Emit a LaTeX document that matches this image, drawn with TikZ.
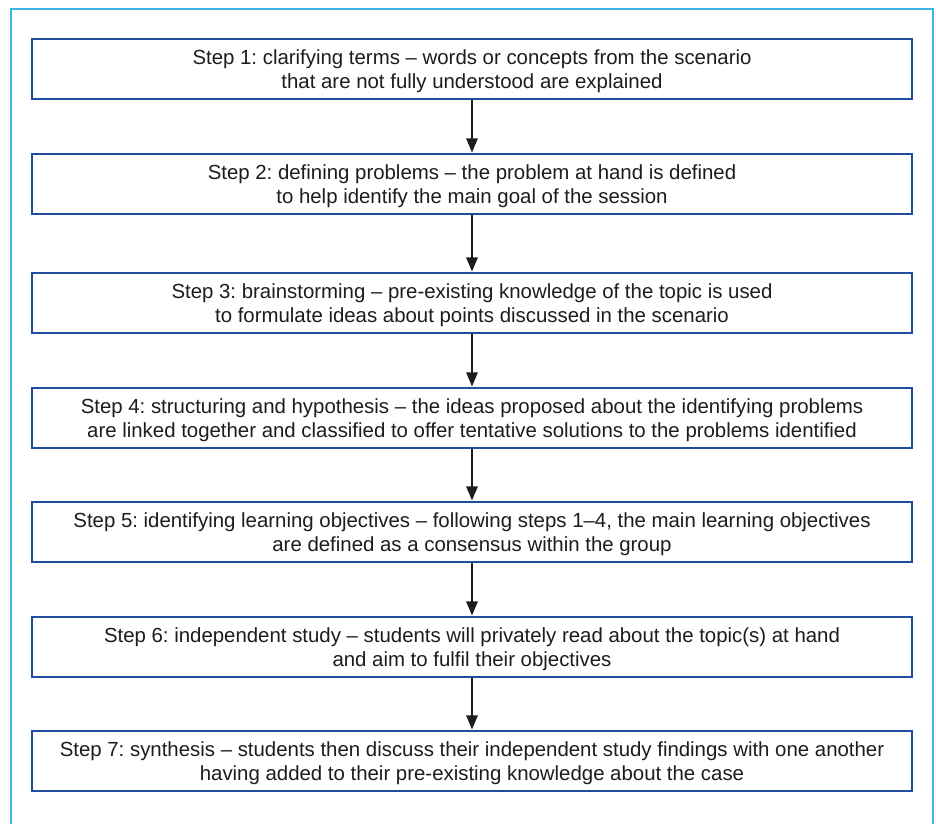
\documentclass[tikz,border=0pt]{standalone}
\usepackage{fontspec}
\setmainfont{Liberation Sans}
\usetikzlibrary{arrows.meta}
\definecolor{framecol}{HTML}{3DB3E6}
\definecolor{boxcol}{HTML}{1F4E9B}
\definecolor{txtcol}{HTML}{1E1C1D}
\frenchspacing
\tikzset{
  stepbox/.style={draw=boxcol, line width=1.6pt, fill=white, minimum width=880pt, minimum height=60pt,
    inner sep=0pt, align=center, text=txtcol, text height=39pt, text depth=-2.5pt,
    font=\fontsize{20.4}{24}\selectfont},
  flowarrow/.style={draw=txtcol, line width=1.3pt, -{Triangle[length=14pt,width=11.5pt]}, shorten >=0.8pt},
  frameline/.style={draw=framecol, line width=2pt}
}
\begin{document}
\begin{tikzpicture}[x=1pt,y=-1pt]
\useasboundingbox (0,0) rectangle (936,823);
\draw[frameline] (10.7,826) -- (10.7,9.3) -- (932.5,9.3) -- (932.5,826);
\node[stepbox] (s1) at (472,69) {Step 1: clarifying terms -- words or concepts from the scenario\\that are not fully understood are explained};
\node[stepbox] (s2) at (472,184) {Step 2: defining problems -- the problem at hand is defined\\to help identify the main goal of the session};
\node[stepbox] (s3) at (472,303) {Step 3: brainstorming -- pre-existing knowledge of the topic is used\\to formulate ideas about points discussed in the scenario};
\node[stepbox] (s4) at (472,418) {Step 4: structuring and hypothesis -- the ideas proposed about the identifying problems\\are linked together and classified to offer tentative solutions to the problems identified};
\node[stepbox] (s5) at (472,532) {Step 5: identifying learning objectives -- following steps 1--4, the main learning objectives\\are defined as a consensus within the group};
\node[stepbox] (s6) at (472,647) {Step 6: independent study -- students will privately read about the topic(s) at hand\\and aim to fulfil their objectives};
\node[stepbox] (s7) at (472,761) {Step 7: synthesis -- students then discuss their independent study findings with one another\\having added to their pre-existing knowledge about the case};
\foreach \a/\b in {s1/s2,s2/s3,s3/s4,s4/s5,s5/s6,s6/s7}
  \draw[flowarrow] (\a.south) -- (\b.north);
\end{tikzpicture}
\end{document}
